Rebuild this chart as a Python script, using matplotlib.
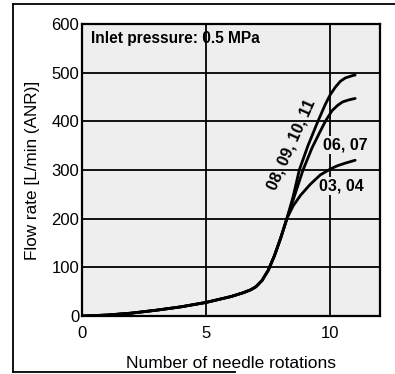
import matplotlib
matplotlib.use("Agg")
import matplotlib.pyplot as plt
from matplotlib.lines import Line2D

plt.rcParams['font.family'] = ['Liberation Sans', 'DejaVu Sans']

# shared low-flow section
common_x = [0, 1, 2, 3, 4, 5, 6, 6.5, 6.8, 7.0, 7.25, 7.5, 7.75, 8.0, 8.25]
common_y = [0, 2, 6, 12, 19, 28, 40, 48, 54, 60, 73, 94, 124, 160, 200]

# branches
x_0811 = [8.5, 8.75, 9.1, 9.5, 9.8, 10.0, 10.2, 10.4, 10.6, 10.9, 11.0]
y_0811 = [245, 300, 350, 400, 435, 455, 470, 482, 489, 494, 495]
x_0607 = [8.5, 8.9, 9.26, 9.55, 9.8, 10.07, 10.3, 10.5, 10.75, 11.0]
y_0607 = [238, 300, 345, 375, 400, 422, 433, 440, 444, 447]
x_0304 = [8.5, 8.8, 9.2, 9.6, 10.0, 10.3, 10.6, 10.8, 11.0]
y_0304 = [226, 248, 271, 290, 302, 309, 314, 317, 320]

series = [(x_0811, y_0811), (x_0607, y_0607), (x_0304, y_0304)]
labels = ["08, 09, 10, 11", "06, 07", "03, 04"]

x_ticks = [0, 5, 10]
y_ticks = [0, 100, 200, 300, 400, 500, 600]

BG = '#eeeeee'

fig = plt.figure(figsize=(3.95, 3.74), dpi=100)
ax = fig.add_axes([0.2076, 0.155, 0.7544, 0.781])
ax.set_facecolor(BG)
ax.set_xlim(0, 12)
ax.set_ylim(0, 600)

for v in y_ticks[1:-1]:
    ax.axhline(v, color='black', lw=1.3, zorder=1)
for v in x_ticks[1:]:
    ax.axvline(v, color='black', lw=1.3, zorder=1)

for sx, sy in series:
    ax.plot(common_x + sx, common_y + sy, color='black', lw=2.0, zorder=3,
            solid_capstyle='round', solid_joinstyle='round')

for s in ax.spines.values():
    s.set_linewidth(1.6)
    s.set_color('black')

ax.set_xticks(x_ticks)
ax.set_yticks(y_ticks)
ax.tick_params(axis='y', length=0, labelsize=12, pad=2)
ax.tick_params(axis='x', length=0, labelsize=12, pad=7)
ax.set_xlabel("Number of needle rotations", fontsize=12.5, labelpad=11)
ax.set_ylabel("Flow rate [L/min (ANR)]", fontsize=12.3, labelpad=8)

ax.text(0.35, 570, "Inlet pressure: 0.5 MPa", fontsize=11.2, fontweight='bold',
        ha='left', va='center', zorder=4)
ax.text(8.45, 352, labels[0], fontsize=11.5, fontweight='bold', rotation=66,
        ha='center', va='center', zorder=4)
box = dict(facecolor=BG, edgecolor='none', pad=1.0)
ax.text(10.6, 352, labels[1], fontsize=11.5, fontweight='bold',
        ha='center', va='center', zorder=2, bbox=box)
ax.text(10.45, 267, labels[2], fontsize=11.5, fontweight='bold',
        ha='center', va='center', zorder=2, bbox=box)

# outer frame lines (left, top, bottom)
fw = 395.0
fh = 374.0
fig.add_artist(Line2D([13 / fw, 13 / fw], [1 - 4 / fh, 1 - 372 / fh], color='black', lw=1.3))
fig.add_artist(Line2D([13 / fw, 1.0], [1 - 4 / fh, 1 - 4 / fh], color='black', lw=1.3))
fig.add_artist(Line2D([13 / fw, 235 / fw], [1 - 372 / fh, 1 - 372 / fh], color='black', lw=1.3))

fig.savefig("out.png", dpi=100)
